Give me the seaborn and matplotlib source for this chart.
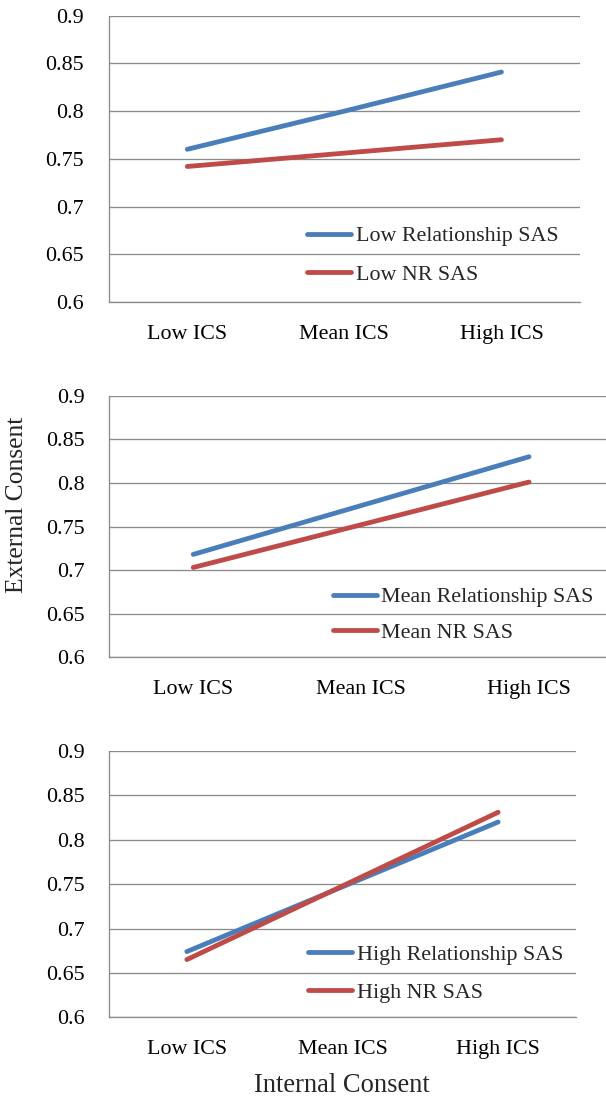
import numpy as np
import pandas as pd
import matplotlib
matplotlib.use("Agg")
import matplotlib.pyplot as plt
import seaborn as sns

# ---------------- data ----------------
categories = ["Low ICS", "Mean ICS", "High ICS"]
yticks = [0.6, 0.65, 0.7, 0.75, 0.8, 0.85, 0.9]
ytick_labels = ["0.6", "0.65", "0.7", "0.75", "0.8", "0.85", "0.9"]

low_rel = [0.760, 0.800, 0.841]
low_nr = [0.742, 0.756, 0.770]
mean_rel = [0.718, 0.774, 0.830]
mean_nr = [0.703, 0.752, 0.801]
high_rel = [0.674, 0.747, 0.820]
high_nr = [0.665, 0.748, 0.831]

names_low = ["Low Relationship SAS", "Low NR SAS"]
names_mean = ["Mean Relationship SAS", "Mean NR SAS"]
names_high = ["High Relationship SAS", "High NR SAS"]

x_label = "Internal Consent"
y_label = "External Consent"

# ---------------- style ----------------
sns.set_style("white")
plt.rcParams["font.family"] = ["Liberation Serif", "DejaVu Serif"]
plt.rcParams["lines.solid_capstyle"] = "round"

BLUE = "#4A7EBB"
RED = "#BE4B48"
GRID = "#8A8A8A"
FS = 22

W, H = 606, 1097
DPI = 72
fig = plt.figure(figsize=(W / DPI, H / DPI), dpi=DPI)

# panel rectangles in pixels: left, top, right, bottom
panels = [
    dict(rect=(108.7, 15.7, 580, 302), rel=low_rel, nr=low_nr, names=names_low,
         leg=(307, 255.5), ls=0.82),
    dict(rect=(109.3, 395.7, 613, 657.3), rel=mean_rel, nr=mean_nr, names=names_mean,
         leg=(332.6, 615.0), ls=0.70),
    dict(rect=(109, 751, 576, 1017.3), rel=high_rel, nr=high_nr, names=names_high,
         leg=(308, 973.7), ls=0.82),
]

pos = np.arange(len(categories))

for p in panels:
    l, t, r, b = p["rect"]
    ax = fig.add_axes([l / W, 1 - b / H, (r - l) / W, (b - t) / H])
    df = pd.DataFrame({
        "pos": np.concatenate([pos, pos]),
        "val": list(p["rel"]) + list(p["nr"]),
        "series": [p["names"][0]] * len(pos) + [p["names"][1]] * len(pos),
    })
    sns.lineplot(data=df, x="pos", y="val", hue="series", hue_order=p["names"],
                 palette=[BLUE, RED], linewidth=4.8, ax=ax, legend=False, sort=False)
    ax.set_xlabel("")
    ax.set_ylabel("")
    ax.set_xlim(-0.5, len(categories) - 0.5)
    ax.set_ylim(0.6, 0.9)
    ax.set_yticks(yticks)
    ax.set_yticklabels(ytick_labels, fontsize=FS, color="black")
    ax.set_xticks(np.arange(len(categories) + 1) - 0.5)
    ax.set_xticklabels([""] * (len(categories) + 1))
    ax.set_xticks(pos, minor=True)
    ax.set_xticklabels(categories, minor=True, fontsize=FS, color="black")
    ax.tick_params(axis="x", which="major", length=7.7, width=1.3, color=GRID, direction="out")
    ax.tick_params(axis="x", which="minor", length=0, pad=23)
    ax.tick_params(axis="y", which="major", length=7.7, width=1.3, color=GRID, direction="out", pad=17)
    ax.yaxis.grid(True, color=GRID, linewidth=1.3)
    ax.xaxis.grid(False)
    ax.set_axisbelow(True)
    for s in ["top", "right"]:
        ax.spines[s].set_visible(False)
    for s in ["left", "bottom"]:
        ax.spines[s].set_color(GRID)
        ax.spines[s].set_linewidth(1.3)
    lx, ly = p["leg"]
    ax.legend(handles=ax.lines[:2], labels=p["names"], loc="center left",
              bbox_to_anchor=(lx / W, 1 - ly / H), bbox_transform=fig.transFigure,
              frameon=False, fontsize=FS, handlelength=2.0, handletextpad=0.22,
              labelspacing=p["ls"], borderpad=0, borderaxespad=0)

fig.text(17 / W, 1 - 505 / H, y_label, rotation=90, ha="center", va="center", fontsize=25.5)
fig.text(342 / W, 1 - 1086 / H, x_label, ha="center", va="center", fontsize=26.5)

fig.savefig("out.png", dpi=DPI)
